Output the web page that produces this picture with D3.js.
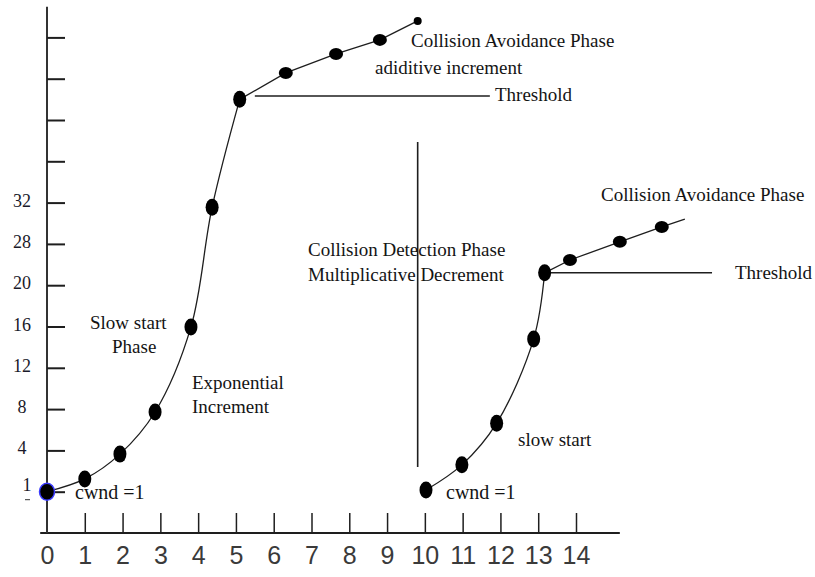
<!DOCTYPE html>
<html>
<head>
<meta charset="utf-8">
<script src="https://cdn.jsdelivr.net/npm/d3@7"></script>
<style>
  html, body { margin: 0; padding: 0; background: #fff; }
  svg { display: block; }
  .lbl { font-family: "Liberation Serif", "Times New Roman", serif; font-size: 19px; fill: #141414; }
</style>
</head>
<body>
<svg id="chart" width="815" height="577"></svg>
<script>
// ---- data ----
const xTickValues = [0, 1, 2, 3, 4, 5, 6, 7, 8, 9, 10, 11, 12, 13, 14];
const yTickLevels = [1, 2, 3, 4, 5, 6, 7, 8, 9, 10, 11, 12];
const yTickLabels = ["1", "4", "8", "12", "16", "20", "28", "32", "", "", "", ""];

// phase 1 (x = transmission round, level = cwnd tick level)
const slowStart1X = [0, 1, 1.93, 2.86, 3.81, 4.37, 5.1];
const slowStart1L = [1, 1.31, 1.91, 2.93, 4.99, 7.89, 10.5];
const avoid1X = [5.1, 6.32, 7.65, 8.81, 9.81];
const avoid1L = [10.5, 11.14, 11.6, 11.94, 12.4];
// phase 2
const slowStart2X = [10.03, 10.98, 11.9, 12.88, 13.17];
const slowStart2L = [1.04, 1.65, 2.66, 4.7, 6.3];
const avoid2X = [13.17, 13.84, 15.16, 16.27];
const avoid2L = [6.3, 6.61, 7.05, 7.41];
const avoid2EndX = 16.88, avoid2EndL = 7.6;

const threshold1 = { level: 10.58, x0: 5.5, x1: 11.72 };
const threshold2 = { level: 6.3, x0: 13.2, x1: 17.6 };
const detectLine = { x: 9.81, l0: 1.6, l1: 9.47 };

const labels = [
  "Collision Avoidance Phase", "adiditive increment", "Threshold",
  "Collision Avoidance Phase", "Collision Detection Phase", "Multiplicative Decrement",
  "Threshold", "Slow start", "Phase", "Exponential", "Increment", "slow start",
  "cwnd =1", "cwnd =1"
];

// ---- layout ----
const labelPos = [
  [411, 47], [375, 74], [495, 101],
  [601, 201], [308, 256], [308, 281],
  [735, 279], [90, 329], [112, 353], [192, 389], [192, 413], [518, 446],
  [75, 499], [446, 499]
];

const svg = d3.select("#chart");
const x = d3.scaleLinear().domain([0, 14]).range([47, 576]);
const y = d3.scaleLinear().domain([0, 12]).range([533, 37.4]);

const ink = "#1e1e1e";

// x axis
const xAxis = d3.axisBottom(x)
  .tickValues(xTickValues)
  .tickSizeInner(-20).tickSizeOuter(0).tickPadding(13)
  .tickFormat(d3.format("d"));
const gx = svg.append("g").attr("transform", `translate(0,${y(0)})`).call(xAxis);
gx.select(".domain").remove();
gx.selectAll(".tick line").attr("stroke", ink).attr("stroke-width", 1.5)
  .filter(d => d === 0).remove();
gx.selectAll(".tick text")
  .attr("fill", "#3a3a3a")
  .style("font-family", "'Liberation Sans Narrow', 'Liberation Sans', sans-serif")
  .style("font-weight", "300")
  .style("font-size", "25px");
svg.append("line")
  .attr("x1", x(-0.18)).attr("x2", x(15.16))
  .attr("y1", y(0)).attr("y2", y(0))
  .attr("stroke", ink).attr("stroke-width", 2);

// y axis
svg.append("line")
  .attr("x1", x(0)).attr("x2", x(0))
  .attr("y1", y(12.74)).attr("y2", y(0))
  .attr("stroke", "#333").attr("stroke-width", 2);
const yAxis = d3.axisRight(y)
  .tickValues(yTickLevels)
  .tickSizeInner(18).tickSizeOuter(0)
  .tickFormat("");
const gy = svg.append("g").attr("transform", `translate(${x(0)},0)`).call(yAxis);
gy.select(".domain").remove();
gy.selectAll(".tick line").attr("stroke", ink).attr("stroke-width", 2);

svg.append("g").selectAll("text")
  .data(yTickLevels)
  .join("text")
  .attr("class", "lbl")
  .attr("x", d => d === 1 ? 27 : 22)
  .attr("y", d => d === 1 ? y(d) - 1 : y(d) + 4)
  .attr("text-anchor", "middle")
  .style("font-size", "18px")
  .style("fill", "#1a1a2a")
  .text((d, i) => yTickLabels[i]);
// small dash under the "1" label
svg.append("line")
  .attr("x1", 25).attr("x2", 30)
  .attr("y1", y(1) + 8).attr("y2", y(1) + 8)
  .attr("stroke", "#333").attr("stroke-width", 1);

// curves
const toPts = (xs, ls) => xs.map((v, i) => [v, ls[i]]);
const curveLine = d3.line().x(d => x(d[0])).y(d => y(d[1])).curve(d3.curveCatmullRom.alpha(0.5));
const straight = d3.line().x(d => x(d[0])).y(d => y(d[1]));

const ss1 = toPts(slowStart1X, slowStart1L);
const av1 = toPts(avoid1X, avoid1L);
const ss2 = toPts(slowStart2X, slowStart2L);
const av2 = toPts(avoid2X, avoid2L).concat([[avoid2EndX, avoid2EndL]]);

[[ss1, curveLine], [av1, straight], [ss2, curveLine], [av2, straight]].forEach(([pts, gen]) => {
  svg.append("path").attr("d", gen(pts))
    .attr("fill", "none").attr("stroke", ink).attr("stroke-width", 1.3);
});

// threshold lines and detection line
[threshold1, threshold2].forEach(t => {
  svg.append("line")
    .attr("x1", x(t.x0)).attr("x2", x(t.x1))
    .attr("y1", y(t.level)).attr("y2", y(t.level))
    .attr("stroke", ink).attr("stroke-width", 1.4);
});
svg.append("line")
  .attr("x1", x(detectLine.x)).attr("x2", x(detectLine.x))
  .attr("y1", y(detectLine.l1)).attr("y2", y(detectLine.l0))
  .attr("stroke", ink).attr("stroke-width", 1.6);

// dots
const dots = svg.append("g");
dots.selectAll("ellipse.ss").data(ss1.concat(ss2))
  .join("ellipse").attr("class", "ss")
  .attr("cx", d => x(d[0])).attr("cy", d => y(d[1]))
  .attr("rx", 6.5).attr("ry", 8.5)
  .attr("fill", "#000");
dots.selectAll("ellipse.av").data(av1.slice(1, 4).concat(av2.slice(1, 4)))
  .join("ellipse").attr("class", "av")
  .attr("cx", d => x(d[0])).attr("cy", d => y(d[1]))
  .attr("rx", 7).attr("ry", 6)
  .attr("fill", "#000");
// junction dot of phase 2 threshold and end dot of phase 1
dots.append("circle").attr("cx", x(slowStart2X[4])).attr("cy", y(slowStart2L[4])).attr("r", 5).attr("fill", "#000");
dots.append("circle").attr("cx", x(avoid1X[4])).attr("cy", y(avoid1L[4])).attr("r", 4).attr("fill", "#000");
// first point, blue rim
dots.append("ellipse").attr("cx", x(slowStart1X[0])).attr("cy", y(slowStart1L[0]))
  .attr("rx", 7.5).attr("ry", 8.5).attr("fill", "#000")
  .attr("stroke", "#3a3aff").attr("stroke-width", 1.5);

// labels
svg.append("g").selectAll("text")
  .data(labels)
  .join("text")
  .attr("class", "lbl")
  .attr("x", (d, i) => labelPos[i][0])
  .attr("y", (d, i) => labelPos[i][1])
  .style("font-size", d => d === "cwnd =1" ? "20px" : null)
  .text(d => d);
</script>
</body>
</html>
